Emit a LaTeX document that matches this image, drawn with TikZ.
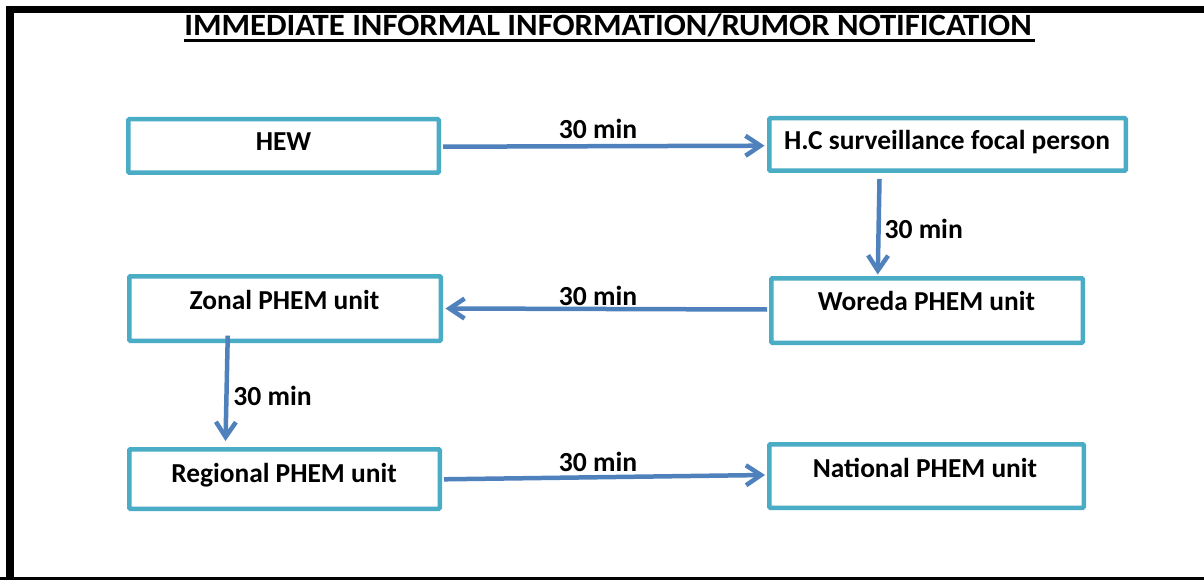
\documentclass[tikz,border=0pt]{standalone}
\usepackage{fontspec}
\setmainfont{Carlito}
\newfontfamily\titlefont[FakeStretch=1.055]{Carlito}
\usetikzlibrary{arrows.meta,calc}
\definecolor{boxcyan}{HTML}{4BACC6}
\definecolor{arrowblue}{HTML}{4F81BD}
\tikzset{
  unitbox/.style={draw=boxcyan, line width=4.5pt, rounded corners=1pt, inner sep=0pt, fill=white},
  boxtext/.style={anchor=base, inner sep=0pt, font=\fontsize{27.4}{31}\selectfont\bfseries},
  timelbl/.style={anchor=base, inner sep=0pt, font=\fontsize{27.6}{31}\selectfont\bfseries},
  flow/.style={draw=arrowblue, line width=4.5pt, -{Straight Barb[length=15pt,width=20pt,line width=4.5pt]}},
}
\begin{document}
\begin{tikzpicture}[x=1pt,y=-1pt]
\useasboundingbox (0,0) rectangle (1204,580);
% frame
\draw[line width=7.5pt, line join=miter] (10,590) -- (10,9.5) -- (1220,9.5);
\draw[line width=7.5pt] (0,581) -- (1220,581);
% title
\node[anchor=base, inner sep=0pt, font=\titlefont\fontsize{31}{35}\selectfont\bfseries] (title) at (608,36) {IMMEDIATE INFORMAL INFORMATION/RUMOR NOTIFICATION};
\draw[line width=2.3pt] ($(title.base west)+(0,4.5)$) -- ($(title.base east)+(3,4.5)$);
% boxes
\node[unitbox, minimum width=310.5pt, minimum height=53.5pt] (hew) at (283.5,146) {};
\node[unitbox, minimum width=356.5pt, minimum height=52.5pt] (hc) at (947.5,144.5) {};
\node[unitbox, minimum width=311.5pt, minimum height=64.5pt] (wor) at (927,310.5) {};
\node[unitbox, minimum width=311.5pt, minimum height=64.5pt] (zon) at (285,308.5) {};
\node[unitbox, minimum width=310.5pt, minimum height=59.5pt] (reg) at (284.5,479) {};
\node[unitbox, minimum width=314.5pt, minimum height=63.5pt] (nat) at (926.5,476) {};
% box texts
\node[boxtext] (hewt) at (283.5,150.7) {HEW};
\node[boxtext] (hct) at (947,150) {H.C surveillance focal person};
\node[boxtext] (wort) at (926.5,310.7) {Woreda PHEM unit};
\node[boxtext] (zont) at (284.5,309) {Zonal PHEM unit};
\node[boxtext] (regt) at (284,482.3) {Regional PHEM unit};
\node[boxtext] (natt) at (925,477.3) {National PHEM unit};
% connectors
\draw[flow] ($(hew.east)+(2,0.7)$) -- ($(hc.west)+(-2.5,1.2)$);
\draw[flow] ($(hc.south west)+(112.5,5.9)$) -- ($(wor.north west)+(108.75,-1.5)$);
\draw[flow] ($(wor.west)+(-2,-1)$) -- ($(zon.east)+(2.5,0)$);
\draw[flow] ($(zon.south west)+(100.75,-7.4)$) -- ($(reg.north west)+(98.5,-6)$);
\draw[flow] ($(reg.east)+(2,0.3)$) -- ($(nat.west)+(-2,-1)$);
% time labels
\node[timelbl] (l1) at (598,138.3) {30 min};
\node[timelbl] (l2) at (923.7,238.3) {30 min};
\node[timelbl] (l3) at (598,305) {30 min};
\node[timelbl] (l4) at (272.5,405.7) {30 min};
\node[timelbl] (l5) at (598,471.7) {30 min};
\end{tikzpicture}
\end{document}
